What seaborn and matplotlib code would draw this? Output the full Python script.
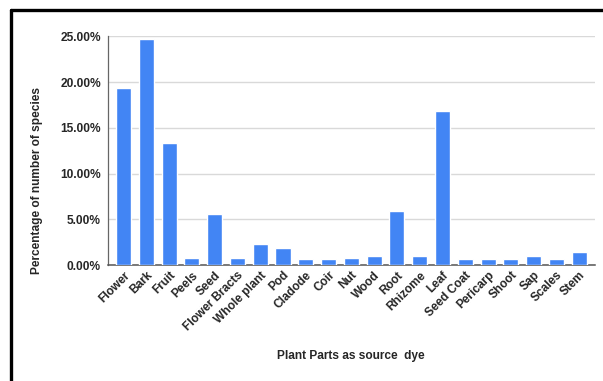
import matplotlib
matplotlib.use("Agg")
import matplotlib.pyplot as plt
from matplotlib.lines import Line2D
from matplotlib.ticker import FuncFormatter, MultipleLocator
import seaborn as sns
import pandas as pd

parts = ["Flower", "Bark", "Fruit", "Peels", "Seed", "Flower Bracts", "Whole plant",
         "Pod", "Cladode", "Coir", "Nut", "Wood", "Root", "Rhizome", "Leaf",
         "Seed Coat", "Pericarp", "Shoot", "Sap", "Scales", "Stem"]
percent = [19.4, 24.75, 13.35, 0.8, 5.6, 0.8, 2.26, 1.9, 0.66, 0.66, 0.8, 1.02,
           5.93, 1.02, 16.8, 0.66, 0.66, 0.66, 1.02, 0.66, 1.45]

df = pd.DataFrame({"part": parts, "percent": percent})

sns.set_theme(style="white")
plt.rcParams["font.family"] = ["Liberation Sans", "DejaVu Sans"]

W, H = 603, 381
fig = plt.figure(figsize=(W / 100, H / 100), dpi=100)
ax = fig.add_axes([108 / W, (H - 265) / H, (594.7 - 108) / W, (265 - 36.3) / H])

sns.barplot(data=df, x="part", y="percent", color="#4285F4", saturation=1,
            width=0.66, ax=ax, zorder=3)

ax.set_ylim(0, 25)
ax.set_xlim(-0.68, len(parts) - 1 + 0.68)
ax.yaxis.set_major_locator(MultipleLocator(5))
ax.yaxis.set_major_formatter(FuncFormatter(lambda v, p: f"{v:.2f}%"))
ax.grid(axis="y", color="#d9d9d9", linewidth=1, zorder=0)
ax.set_axisbelow(True)

for s in ["top", "right"]:
    ax.spines[s].set_visible(False)
ax.spines["left"].set_color("#666666")
ax.spines["left"].set_linewidth(0.9)
ax.spines["bottom"].set_color("#555555")
ax.spines["bottom"].set_linewidth(1.1)

ax.tick_params(axis="y", length=0, pad=5, labelsize=8.6)
ax.tick_params(axis="x", length=0, pad=3, labelsize=8.6)
for lab in ax.get_yticklabels():
    lab.set_fontweight("bold")
for lab in ax.get_xticklabels():
    lab.set_fontweight("bold")
    lab.set_rotation(45)
    lab.set_ha("right")
    lab.set_rotation_mode("anchor")

ax.set_xlabel("")
ax.set_ylabel("")
fig.text(351 / W, (H - 356) / H, "Plant Parts as source  dye", ha="center", va="center",
         fontsize=8.6, fontweight="bold")
fig.text(37 / W, (H - 181) / H, "Percentage of number of species", ha="center",
         va="center", rotation=90, fontsize=8.6, fontweight="bold")

# outer frame along the top and left edges
fig.add_artist(Line2D([10.5 / W, 1.0], [(H - 9.5) / H, (H - 9.5) / H],
                      transform=fig.transFigure, color="black", linewidth=2.4))
fig.add_artist(Line2D([10.5 / W, 10.5 / W], [(H - 9.5) / H, 0],
                      transform=fig.transFigure, color="black", linewidth=2.4))

fig.savefig("out.png", dpi=100)
